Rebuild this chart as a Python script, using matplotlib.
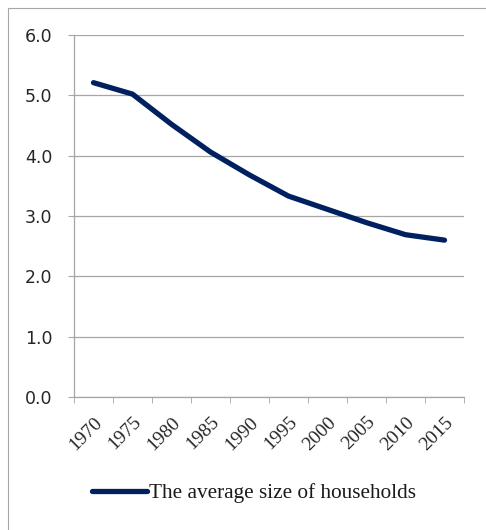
import matplotlib
matplotlib.use("Agg")
import matplotlib.pyplot as plt
from matplotlib.patches import Rectangle
import numpy as np

years = ["1970", "1975", "1980", "1985", "1990", "1995", "2000", "2005", "2010", "2015"]
household_size = [5.21, 5.02, 4.52, 4.06, 3.68, 3.33, 3.11, 2.89, 2.69, 2.60]

plt.rcParams["font.family"] = ["Liberation Serif", "DejaVu Serif"]

fig = plt.figure(figsize=(4.86, 5.30), dpi=100)
# outer chart border (right and bottom edges fall outside the picture)
fig.patches.append(Rectangle((8 / 486, -0.1), 1.2, (530 - 8) / 530 + 0.1,
                             transform=fig.transFigure, fill=False,
                             edgecolor="#a6a6a6", linewidth=0.8))

ax = fig.add_axes([74 / 486, 133 / 530, 390 / 486, 362 / 530])

x = np.arange(len(years))
line, = ax.plot(x, household_size, color="#002060", linewidth=3.8,
                solid_capstyle="round", solid_joinstyle="round",
                label="The average size of households")

ax.set_xlim(-0.5, len(years) - 0.5)
ax.set_ylim(0, 6)
yt = np.arange(0, 6.1, 1.0)
ax.set_yticks(yt)
ax.set_yticklabels(["{:.1f}".format(v) for v in yt], family="DejaVu Sans", fontsize=12.5)
ax.yaxis.grid(True, color="#a6a6a6", linewidth=0.9)
ax.set_axisbelow(True)

ax.set_xticks(x)
ax.set_xticklabels(years, rotation=45, ha="right", rotation_mode="anchor", fontsize=14)
ax.set_xticks(np.arange(-0.5, len(years)), minor=True)
ax.tick_params(axis="x", which="major", length=0, pad=12)
ax.tick_params(axis="x", which="minor", length=4.5, color="#a6a6a6", direction="out")
ax.tick_params(axis="y", length=4.5, color="#a6a6a6", pad=11)
ax.tick_params(labelcolor="#262626")

for s in ["top", "right"]:
    ax.spines[s].set_visible(False)
for s in ["left", "bottom"]:
    ax.spines[s].set_color("#a6a6a6")
    ax.spines[s].set_linewidth(0.9)

fig.legend(handles=[line], loc="center", bbox_to_anchor=(254 / 486, 1 - 493 / 530),
           frameon=False, fontsize=15.3, handlelength=2.6, handletextpad=0.1,
           labelcolor="#1a1a1a")

fig.savefig("out.png", dpi=100)
